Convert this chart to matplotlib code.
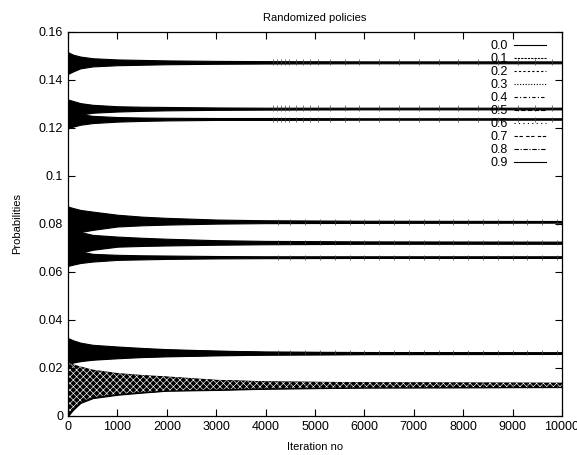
import matplotlib.pyplot as plt
from matplotlib.lines import Line2D
from matplotlib.ticker import FormatStrFormatter, MultipleLocator

plt.rcParams['font.family'] = ['Liberation Sans', 'DejaVu Sans']
plt.rcParams['font.size'] = 9
plt.rcParams['hatch.linewidth'] = 0.45

# iteration numbers where the envelope of each oscillating series was read
iterations = [0, 100, 250, 500, 1000, 1500, 2000, 3000, 4000, 6000, 10000]
policy_labels = ['0.0', '0.1', '0.2', '0.3', '0.4', '0.5', '0.6', '0.7', '0.8', '0.9']

# upper / lower envelope of each series (probabilities)
upper_00 = [0.1515, 0.1505, 0.1497, 0.1490, 0.1485, 0.1483, 0.1481, 0.1479, 0.1478, 0.1477, 0.1477]
lower_00 = [0.1425, 0.1435, 0.1448, 0.1456, 0.1461, 0.1463, 0.1465, 0.1467, 0.1468, 0.1469, 0.1469]
upper_01 = [0.1318, 0.1312, 0.1303, 0.1296, 0.1290, 0.1288, 0.1287, 0.1285, 0.1284, 0.1284, 0.1284]
lower_01 = [0.1245, 0.1250, 0.1255, 0.1263, 0.1268, 0.1271, 0.1273, 0.1275, 0.1276, 0.1277, 0.1277]
upper_02 = [0.1272, 0.1265, 0.1257, 0.1250, 0.1245, 0.1243, 0.1242, 0.1241, 0.1241, 0.1240, 0.1240]
lower_02 = [0.1198, 0.1205, 0.1213, 0.1220, 0.1226, 0.1229, 0.1231, 0.1233, 0.1233, 0.1234, 0.1234]
upper_03 = [0.0872, 0.0866, 0.0858, 0.0851, 0.0838, 0.0830, 0.0825, 0.0818, 0.0815, 0.0813, 0.0812]
lower_03 = [0.0748, 0.0755, 0.0766, 0.0775, 0.0789, 0.0794, 0.0797, 0.0801, 0.0803, 0.0804, 0.0805]
upper_04 = [0.0785, 0.0778, 0.0766, 0.0754, 0.0747, 0.0742, 0.0738, 0.0732, 0.0729, 0.0727, 0.0726]
lower_04 = [0.0660, 0.0668, 0.0680, 0.0692, 0.0705, 0.0708, 0.0710, 0.0713, 0.0715, 0.0717, 0.0717]
upper_05 = [0.0702, 0.0695, 0.0685, 0.0675, 0.0671, 0.0669, 0.0668, 0.0666, 0.0665, 0.0665, 0.0665]
lower_05 = [0.0625, 0.0630, 0.0637, 0.0643, 0.0650, 0.0652, 0.0654, 0.0656, 0.0657, 0.0658, 0.0658]
upper_06 = [0.0324, 0.0315, 0.0305, 0.0296, 0.0289, 0.0283, 0.0278, 0.0272, 0.0268, 0.0266, 0.0265]
lower_06 = [0.0220, 0.0225, 0.0231, 0.0236, 0.0245, 0.0248, 0.0250, 0.0254, 0.0256, 0.0258, 0.0259]
upper_07 = [0.0310, 0.0302, 0.0295, 0.0290, 0.0285, 0.0280, 0.0276, 0.0271, 0.0267, 0.0265, 0.0264]
lower_07 = [0.0215, 0.0222, 0.0228, 0.0234, 0.0240, 0.0245, 0.0248, 0.0252, 0.0255, 0.0257, 0.0258]
upper_08 = [0.0220, 0.0214, 0.0205, 0.0192, 0.0178, 0.0170, 0.0164, 0.0150, 0.0144, 0.0140, 0.0138]
lower_08 = [0.0000, 0.0025, 0.0054, 0.0074, 0.0088, 0.0097, 0.0105, 0.0108, 0.0113, 0.0118, 0.0120]
upper_09 = [0.0212, 0.0206, 0.0198, 0.0188, 0.0175, 0.0168, 0.0162, 0.0149, 0.0143, 0.0139, 0.0137]
lower_09 = [0.0008, 0.0030, 0.0058, 0.0078, 0.0091, 0.0099, 0.0106, 0.0110, 0.0115, 0.0119, 0.0121]

# late spikes (iterations, low, high) seen on the converged series
spike_iters_top = [4150, 4230, 4310, 4400, 4480, 4620, 4750, 4900, 5050, 5300, 5600, 5900,
                   6300, 6700, 7100, 7500, 7900, 8300, 8700, 9100, 9450, 9800]
spike_lo_00 = 0.1460
spike_hi_00 = 0.1487
spike_lo_01 = 0.1272
spike_hi_01 = 0.1296
spike_lo_02 = 0.1225
spike_hi_02 = 0.1246
spike_iters_mid = [4250, 4500, 4800, 5100, 5400, 5700, 6000, 6300, 6600, 6900, 7200,
                   7500, 7800, 8100, 8400, 8700, 9000, 9300, 9600, 9900]
spike_lo_03 = 0.0797
spike_hi_03 = 0.0820
spike_lo_04 = 0.0710
spike_hi_04 = 0.0732
spike_lo_05 = 0.0650
spike_hi_05 = 0.0671
spike_lo_06 = 0.0252
spike_hi_06 = 0.0274
spike_lo_08 = 0.0115
spike_hi_08 = 0.0140

uppers = [upper_00, upper_01, upper_02, upper_03, upper_04, upper_05, upper_06, upper_07, upper_08, upper_09]
lowers = [lower_00, lower_01, lower_02, lower_03, lower_04, lower_05, lower_06, lower_07, lower_08, lower_09]
spikes = [(spike_iters_top, spike_lo_00, spike_hi_00), (spike_iters_top, spike_lo_01, spike_hi_01),
          (spike_iters_top, spike_lo_02, spike_hi_02), (spike_iters_mid, spike_lo_03, spike_hi_03),
          (spike_iters_mid, spike_lo_04, spike_hi_04), (spike_iters_mid, spike_lo_05, spike_hi_05),
          (spike_iters_mid, spike_lo_06, spike_hi_06), (spike_iters_mid, spike_lo_08, spike_hi_08)]
line_styles = ['-', (0, (2, 1)), (0, (2, 2)), (0, (1, 1.5)), (0, (3, 2, 1, 2)),
               (0, (4, 2)), (0, (1, 3)), (0, (3, 1.5, 3, 3)), (0, (4, 1.5, 1, 1.5)), '-']
speckled = [False] * 8 + [True, True]

fig = plt.figure(figsize=(5.77, 4.55), dpi=100)
ax = fig.add_axes([0.118, 0.086, 0.856, 0.844])

for up, lo, sp in zip(uppers, lowers, speckled):
    ax.fill_between(iterations, lo, up, facecolor='black', edgecolor='black', linewidth=0.8)
    if sp:
        # interference pattern of the two overlapping oscillations
        ax.fill_between(iterations, lo, up, facecolor='none', edgecolor='white',
                        hatch='xxxxx', linewidth=0)

for its, lo, hi in spikes:
    ax.vlines(its, lo, hi, color='0.25', linewidth=0.5)

ax.set_xlim(0, 10000)
ax.set_ylim(0, 0.16)
ax.xaxis.set_major_locator(MultipleLocator(1000))
ax.yaxis.set_major_locator(MultipleLocator(0.02))
ax.yaxis.set_major_formatter(FormatStrFormatter('%g'))
ax.tick_params(direction='in', top=True, right=True, length=5, width=0.8, labelsize=9)
for s in ax.spines.values():
    s.set_linewidth(0.9)

ax.set_title('Randomized policies', fontsize=8, pad=8)
ax.set_xlabel('Iteration no', fontsize=8, labelpad=7)
ax.set_ylabel('Probabilities', fontsize=8, labelpad=12)

handles = [Line2D([], [], color='black', linewidth=0.8, linestyle=ls) for ls in line_styles]
ax.legend(handles, policy_labels, loc='upper right', bbox_to_anchor=(0.981, 0.995),
          frameon=False, markerfirst=False, handlelength=2.55, handletextpad=0.55,
          labelspacing=0.08, borderpad=0, fontsize=9)

fig.savefig('out.png', dpi=100)
